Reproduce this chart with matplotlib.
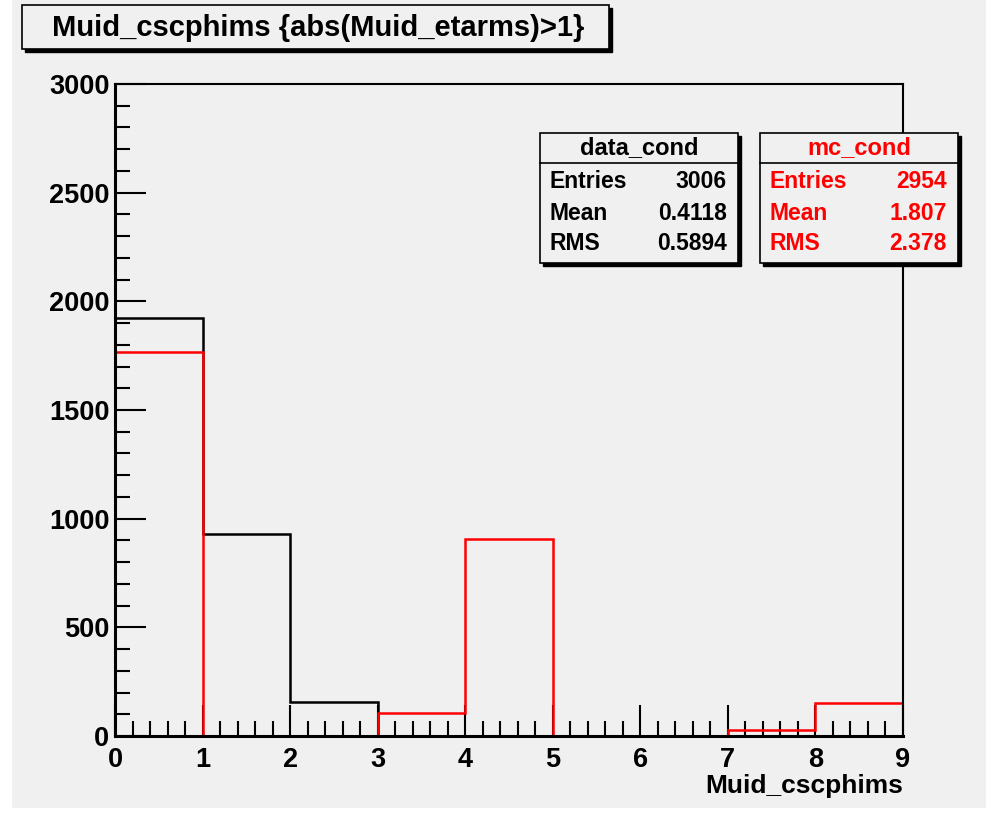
import matplotlib
matplotlib.use("Agg")
import matplotlib.pyplot as plt
from matplotlib.patches import Rectangle
from matplotlib.ticker import MultipleLocator
import numpy as np

# ---- data ----
edges = [0, 1, 2, 3, 4, 5, 6, 7, 8, 9]
data_counts = [1922, 929, 155, 0, 0, 0, 0, 0, 0]
mc_counts = [1765, 0, 0, 106, 905, 0, 0, 28, 150]
title = "Muid_cscphims {abs(Muid_etarms)>1}"
xlabel = "Muid_cscphims"
stat_labels = ["Entries", "Mean", "RMS"]
data_stats = ["3006", "0.4118", "0.5894"]
mc_stats = ["2954", "1.807", "2.378"]

W, H = 987, 814
BG = "#f0f0f0"
FONT = ["Liberation Sans", "DejaVu Sans"]
plt.rcParams["font.family"] = FONT
plt.rcParams["font.weight"] = "bold"

fig = plt.figure(figsize=(W / 100, H / 100), dpi=100, facecolor="white")

def fx(x):
    return x / W

def fy(y):
    return 1 - y / H

# gray panel
fig.patches.append(Rectangle((fx(12), fy(808)), fx(987 - 12), 808 / H,
                             transform=fig.transFigure, facecolor=BG,
                             edgecolor="none", zorder=-5))

L, R, T, B = 115, 903, 84, 736
ax = fig.add_axes([fx(L), fy(B), (R - L) / W, (B - T) / H])
ax.set_zorder(1)
ax.set_facecolor(BG)
ax.stairs(data_counts, edges, color="black", linewidth=1.8, zorder=2.0)
ax.stairs(mc_counts, edges, color="red", linewidth=1.8, zorder=2.1)
ax.set_xlim(0, 9)
ax.set_ylim(0, 3000)
for name, s in ax.spines.items():
    s.set_linewidth(2.2 if name in ("left", "bottom") else 1.5)
    s.set_zorder(3)
ax.xaxis.set_major_locator(MultipleLocator(1))
ax.xaxis.set_minor_locator(MultipleLocator(0.2))
ax.yaxis.set_major_locator(MultipleLocator(500))
ax.yaxis.set_minor_locator(MultipleLocator(100))
ax.tick_params(which="major", direction="in", length=22, width=1.5,
               labelsize=19.5, pad=4)
ax.tick_params(which="minor", direction="in", length=11, width=1.5)
ax.tick_params(axis="x", which="major", pad=8)
ax.set_xticks(range(10))
ax.set_xticklabels([str(i) for i in range(10)], fontweight="bold")
ax.set_yticks(range(0, 3001, 500))
ax.set_yticklabels([str(v) for v in range(0, 3001, 500)], fontweight="bold")

fig.text(fx(903), fy(786), xlabel, ha="right", va="center", fontsize=19,
         fontweight="bold")

def box(x0, y0, x1, y1, shadow=3, z=5):
    fig.patches.append(Rectangle((fx(x0 + shadow), fy(y1 + shadow)),
                                 fx(x1 - x0), (y1 - y0) / H,
                                 transform=fig.transFigure, facecolor="black",
                                 edgecolor="black", zorder=z))
    fig.patches.append(Rectangle((fx(x0), fy(y1)), fx(x1 - x0), (y1 - y0) / H,
                                 transform=fig.transFigure, facecolor=BG,
                                 edgecolor="black", linewidth=1.2, zorder=z + 1))

# title box
box(22, 5, 609, 49)
fig.text(fx(318), fy(28), title, ha="center", va="center", fontsize=21,
         fontweight="bold", zorder=7)

def statbox(x0, x1, name, vals, color):
    box(x0, 133, x1, 263)
    fig.lines.append(plt.Line2D([fx(x0), fx(x1)], [fy(163), fy(163)],
                                transform=fig.transFigure, color="black",
                                linewidth=1.2, zorder=7))
    fig.text(fx((x0 + x1) / 2), fy(148), name, ha="center", va="center",
             fontsize=17, fontweight="bold", color=color, zorder=8)
    for i, (lab, v) in enumerate(zip(stat_labels, vals)):
        yy = fy(182 + i * 31)
        fig.text(fx(x0 + 10), yy, lab, ha="left", va="center", fontsize=16.5,
                 fontweight="bold", color=color, zorder=8)
        fig.text(fx(x1 - 11), yy, v, ha="right", va="center", fontsize=16.5,
                 fontweight="bold", color=color, zorder=8)

statbox(540, 738, "data_cond", data_stats, "black")
statbox(760, 958, "mc_cond", mc_stats, "red")

fig.savefig("out.png", dpi=100, facecolor="white")
